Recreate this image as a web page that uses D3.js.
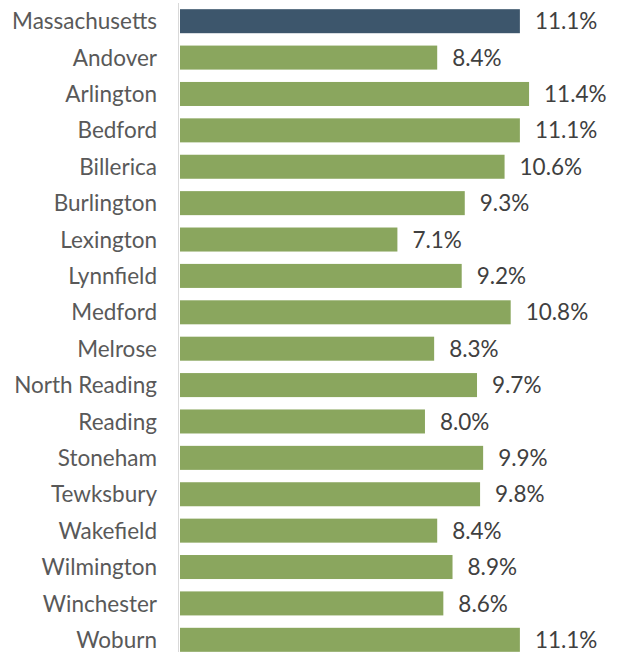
<!DOCTYPE html>
<html>
<head>
<meta charset="utf-8">
<script src="https://cdn.jsdelivr.net/npm/d3@7"></script>
<style>
  body { margin: 0; background: #fff; }
  svg { display: block; }
</style>
</head>
<body>
<div id="chart"></div>
<script>
// DATA
const towns = ["Massachusetts", "Andover", "Arlington", "Bedford", "Billerica", "Burlington",
    "Lexington", "Lynnfield", "Medford", "Melrose", "North Reading", "Reading",
    "Stoneham", "Tewksbury", "Wakefield", "Wilmington", "Winchester", "Woburn"];
const rates = [11.1, 8.4, 11.4, 11.1, 10.6, 9.3, 7.1, 9.2, 10.8, 8.3, 9.7, 8.0, 9.9, 9.8, 8.4, 8.9, 8.6, 11.1];
const highlight = ["Massachusetts"];

const data = towns.map((t, i) => ({ town: t, rate: rates[i] }));

// SVG
const width = 618, height = 652;
const left = 180;

const svg = d3.select("#chart")
    .append("svg")
    .attr("width", width)
    .attr("height", height);

// scales
const xs = d3.scaleLinear()
    .domain([0, 14])
    .range([left, left + 14 * 30.62]);

const ys = d3.scaleBand()
    .domain(towns)
    .range([3, 658])
    .paddingInner(0.34)
    .paddingOuter(0.17);

// bars
svg.append("g")
    .selectAll("rect")
    .data(data)
    .enter()
    .append("rect")
    .attr("x", xs(0))
    .attr("y", d => ys(d.town))
    .attr("width", d => xs(d.rate) - xs(0))
    .attr("height", ys.bandwidth())
    .style("fill", d => highlight.includes(d.town) ? "#3d566c" : "#8aa65e");

// vertical axis line
svg.append("line")
    .attr("x1", left - 1.5)
    .attr("x2", left - 1.5)
    .attr("y1", 3)
    .attr("y2", height)
    .attr("stroke", "#d9d9d9")
    .attr("stroke-width", 1);

// category labels
svg.append("g")
    .selectAll("text")
    .data(data)
    .enter()
    .append("text")
    .attr("x", 157)
    .attr("y", d => ys(d.town) + ys.bandwidth() / 2)
    .attr("dy", "0.36em")
    .attr("text-anchor", "end")
    .style("font-family", "Lato, 'Open Sans', sans-serif")
    .style("font-size", "22.5px")
    .style("fill", "#595959")
    .text(d => d.town);

// value labels
svg.append("g")
    .selectAll("text")
    .data(data)
    .enter()
    .append("text")
    .attr("x", d => xs(d.rate) + 15)
    .attr("y", d => ys(d.town) + ys.bandwidth() / 2)
    .attr("dy", "0.36em")
    .style("font-family", "Lato, 'Open Sans', sans-serif")
    .style("font-size", "22.5px")
    .style("fill", "#404040")
    .text(d => d.rate.toFixed(1) + "%");
</script>
</body>
</html>
